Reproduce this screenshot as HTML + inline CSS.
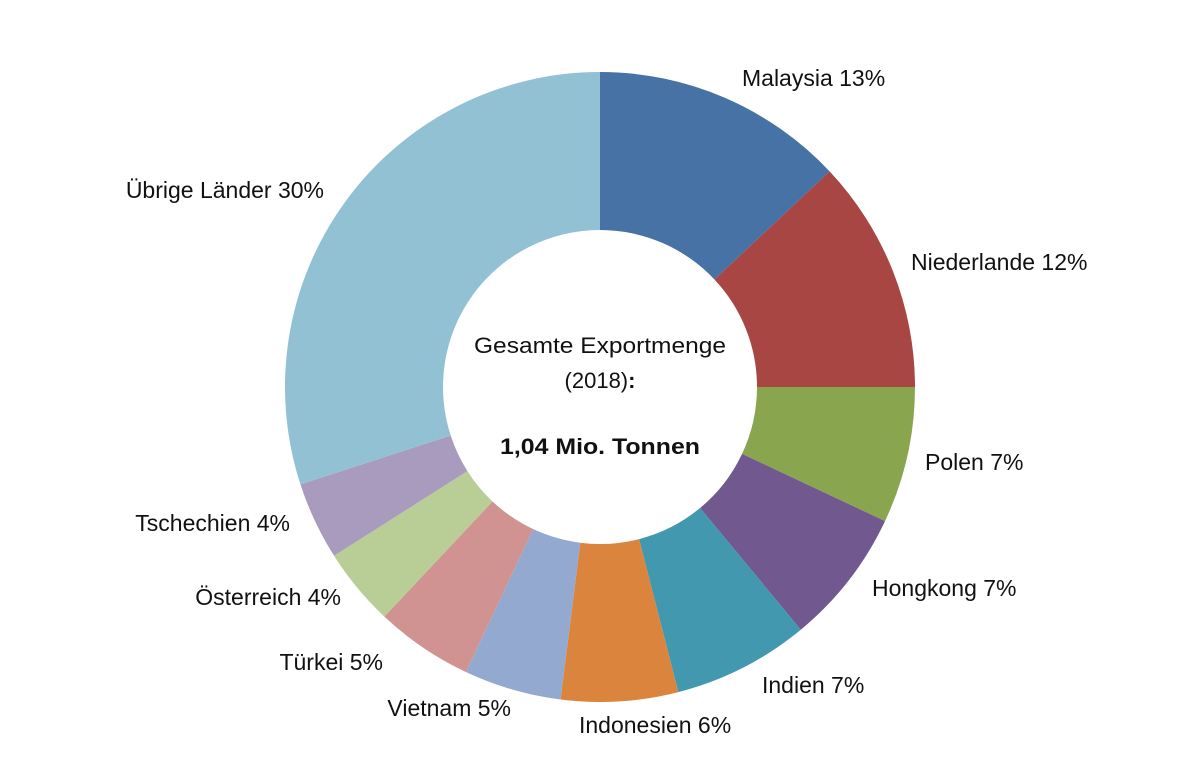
<!DOCTYPE html>
<html><head><meta charset="utf-8"><style>
html,body{margin:0;padding:0;background:#fff;}
svg{display:block;font-family:"Liberation Sans",sans-serif;}
</style></head><body>
<svg id="chart" width="1202" height="773" viewBox="0 0 1202 773">
<g id="slices"></g>
<g id="labels"></g>
<g font-size="22" fill="#111" text-anchor="middle">
<text x="600" y="353" textLength="252" lengthAdjust="spacingAndGlyphs">Gesamte Exportmenge</text>
<text x="600" y="388">(2018)<tspan font-weight="bold">:</tspan></text>
<text x="600" y="454" font-weight="bold" textLength="200" lengthAdjust="spacingAndGlyphs">1,04 Mio. Tonnen</text>
</g>
</svg>
<script>
const categories = ["Malaysia","Niederlande","Polen","Hongkong","Indien","Indonesien","Vietnam","Türkei","Österreich","Tschechien","Übrige Länder"];
const values = [13,12,7,7,7,6,5,5,4,4,30];
const colors = ["#4672a6","#a84644","#89a54e","#71588f","#4198af","#db843d","#93a9cf","#d19392","#b9cd96","#a99bbd","#92c1d4"];
const labelX = [742,911,925,872,762,579,511,383,341,290,324];
const labelY = [86,270,470,596,693,733,716,670,605,531,198];
const labelAnchor = ["start","start","start","start","start","start","end","end","end","end","end"];

const cx=600, cy=387, R=315, r=157;
const total = values.reduce((a,b)=>a+b,0);
function ang(v){ return v/total*2*Math.PI; }
function pt(a,rad){ return [cx+rad*Math.sin(a), cy-rad*Math.cos(a)]; }
const ns="http://www.w3.org/2000/svg";
const gS=document.getElementById('slices'), gL=document.getElementById('labels');
let cum=0;
values.forEach((v,i)=>{
  const a0=ang(cum), a1=ang(cum+v); cum+=v;
  const large=(a1-a0)>Math.PI?1:0;
  const p0=pt(a0,R),p1=pt(a1,R),q1=pt(a1,r),q0=pt(a0,r);
  const d=`M${p0[0]},${p0[1]} A${R},${R} 0 ${large} 1 ${p1[0]},${p1[1]} L${q1[0]},${q1[1]} A${r},${r} 0 ${large} 0 ${q0[0]},${q0[1]} Z`;
  const path=document.createElementNS(ns,'path');
  path.setAttribute('d',d);
  path.setAttribute('fill',colors[i]);
  
  
  gS.appendChild(path);
  const t=document.createElementNS(ns,'text');
  t.setAttribute('x',labelX[i]);t.setAttribute('y',labelY[i]);
  t.setAttribute('text-anchor',labelAnchor[i]);
  t.setAttribute('font-size','23');t.setAttribute('fill','#111');
  t.textContent=categories[i]+' '+v+'%';
  
  
  gL.appendChild(t);
});
</script>
</body></html>
